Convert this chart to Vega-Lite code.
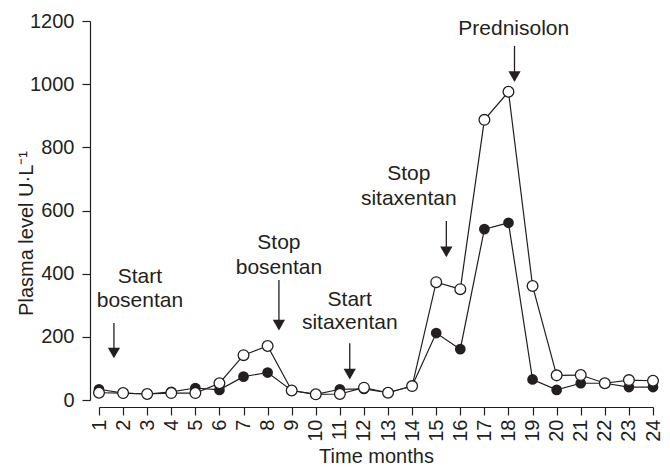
{
"$schema": "https://vega.github.io/schema/vega-lite/v6.json",
"width": 554,
"height": 379,
"autosize": {"type": "none"},
"padding": {"left": 99, "top": 21, "right": 17, "bottom": 67},
"background": "white",
"config": {
  "view": {"stroke": null},
  "font": "Liberation Sans",
  "axis": {"domainColor": "#231f20", "tickColor": "#231f20", "labelColor": "#231f20", "titleColor": "#231f20", "labelFontSize": 20, "titleFontSize": 20, "titleFontWeight": "normal", "grid": false, "labelFlush": false, "labelOverlap": false, "domainWidth": 1.2, "tickWidth": 1.2}
},
"datasets": {
  "series": [
    {"month": 1, "value": 34, "series": "filled"}, {"month": 2, "value": 22, "series": "filled"}, {"month": 3, "value": 19, "series": "filled"}, {"month": 4, "value": 26, "series": "filled"}, {"month": 5, "value": 38, "series": "filled"}, {"month": 6, "value": 32, "series": "filled"}, {"month": 7, "value": 74, "series": "filled"}, {"month": 8, "value": 87, "series": "filled"}, {"month": 9, "value": 30, "series": "filled"}, {"month": 10, "value": 18, "series": "filled"}, {"month": 11, "value": 34, "series": "filled"}, {"month": 12, "value": 35, "series": "filled"}, {"month": 13, "value": 23, "series": "filled"}, {"month": 14, "value": 44, "series": "filled"}, {"month": 15, "value": 212, "series": "filled"}, {"month": 16, "value": 161, "series": "filled"}, {"month": 17, "value": 541, "series": "filled"}, {"month": 18, "value": 561, "series": "filled"}, {"month": 19, "value": 65, "series": "filled"}, {"month": 20, "value": 32, "series": "filled"}, {"month": 21, "value": 53, "series": "filled"}, {"month": 22, "value": 53, "series": "filled"}, {"month": 23, "value": 41, "series": "filled"}, {"month": 24, "value": 41, "series": "filled"},
    {"month": 1, "value": 23, "series": "open"}, {"month": 2, "value": 22, "series": "open"}, {"month": 3, "value": 19, "series": "open"}, {"month": 4, "value": 22, "series": "open"}, {"month": 5, "value": 22, "series": "open"}, {"month": 6, "value": 53, "series": "open"}, {"month": 7, "value": 142, "series": "open"}, {"month": 8, "value": 171, "series": "open"}, {"month": 9, "value": 30, "series": "open"}, {"month": 10, "value": 18, "series": "open"}, {"month": 11, "value": 19, "series": "open"}, {"month": 12, "value": 39, "series": "open"}, {"month": 13, "value": 23, "series": "open"}, {"month": 14, "value": 44, "series": "open"}, {"month": 15, "value": 373, "series": "open"}, {"month": 16, "value": 351, "series": "open"}, {"month": 17, "value": 887, "series": "open"}, {"month": 18, "value": 976, "series": "open"}, {"month": 19, "value": 361, "series": "open"}, {"month": 20, "value": 78, "series": "open"}, {"month": 21, "value": 79, "series": "open"}, {"month": 22, "value": 53, "series": "open"}, {"month": 23, "value": 63, "series": "open"}, {"month": 24, "value": 61, "series": "open"}
  ],
  "arrows": [
    {"month": 1.62, "value": 244, "value2": 149},
    {"month": 8.47, "value": 380, "value2": 237},
    {"month": 11.41, "value": 180, "value2": 82},
    {"month": 15.42, "value": 567, "value2": 469},
    {"month": 18.25, "value": 1121, "value2": 1024}
  ],
  "labels": [
    {"month": 2.7, "value": 389, "label": "Start"},
    {"month": 2.7, "value": 313, "label": "bosentan"},
    {"month": 8.47, "value": 497, "label": "Stop"},
    {"month": 8.47, "value": 418, "label": "bosentan"},
    {"month": 11.41, "value": 317, "label": "Start"},
    {"month": 11.41, "value": 244, "label": "sitaxentan"},
    {"month": 13.86, "value": 716, "label": "Stop"},
    {"month": 13.86, "value": 636, "label": "sitaxentan"},
    {"month": 18.22, "value": 1175, "label": "Prednisolon"}
  ]
},
"encoding": {
  "x": {"field": "month", "type": "quantitative", "scale": {"domain": [1, 24], "nice": false, "zero": false}, "axis": {"values": [1,2,3,4,5,6,7,8,9,10,11,12,13,14,15,16,17,18,19,20,21,22,23,24], "title": "Time months", "labelAngle": -90, "offset": 7, "tickSize": 8, "labelPadding": 4, "titlePadding": 5}},
  "y": {"field": "value", "type": "quantitative", "scale": {"domain": [0, 1200], "nice": false}, "axis": {"values": [0,200,400,600,800,1000,1200], "format": "d", "title": "Plasma level U·L⁻¹", "offset": 9, "tickSize": 8, "labelPadding": 8, "titleX": -64, "titleY": 212, "titleBaseline": "middle", "titleAlign": "center", "titleAngle": 270}}
},
"layer": [
  {"data": {"name": "series"}, "mark": {"type": "line", "color": "#231f20", "strokeWidth": 1.2}, "encoding": {"detail": {"field": "series"}}},
  {"data": {"name": "series"}, "transform": [{"filter": "datum.series === 'filled'"}], "mark": {"type": "point", "shape": "circle", "filled": true, "color": "#231f20", "size": 115, "opacity": 1}},
  {"data": {"name": "series"}, "transform": [{"filter": "datum.series === 'open'"}], "mark": {"type": "point", "shape": "circle", "filled": true, "fill": "white", "stroke": "#231f20", "strokeWidth": 1.3, "size": 115, "opacity": 1}},
  {"data": {"name": "arrows"}, "mark": {"type": "rule", "color": "#231f20", "strokeWidth": 1.3}, "encoding": {"y2": {"field": "value2"}}},
  {"data": {"name": "arrows"}, "mark": {"type": "point", "shape": "triangle-down", "filled": true, "color": "#231f20", "size": 150, "opacity": 1}, "encoding": {"y": {"field": "value2", "type": "quantitative"}}},
  {"data": {"name": "labels"}, "mark": {"type": "text", "fontSize": 21, "color": "#231f20", "align": "center", "baseline": "middle"}, "encoding": {"text": {"field": "label"}}}
]
}
